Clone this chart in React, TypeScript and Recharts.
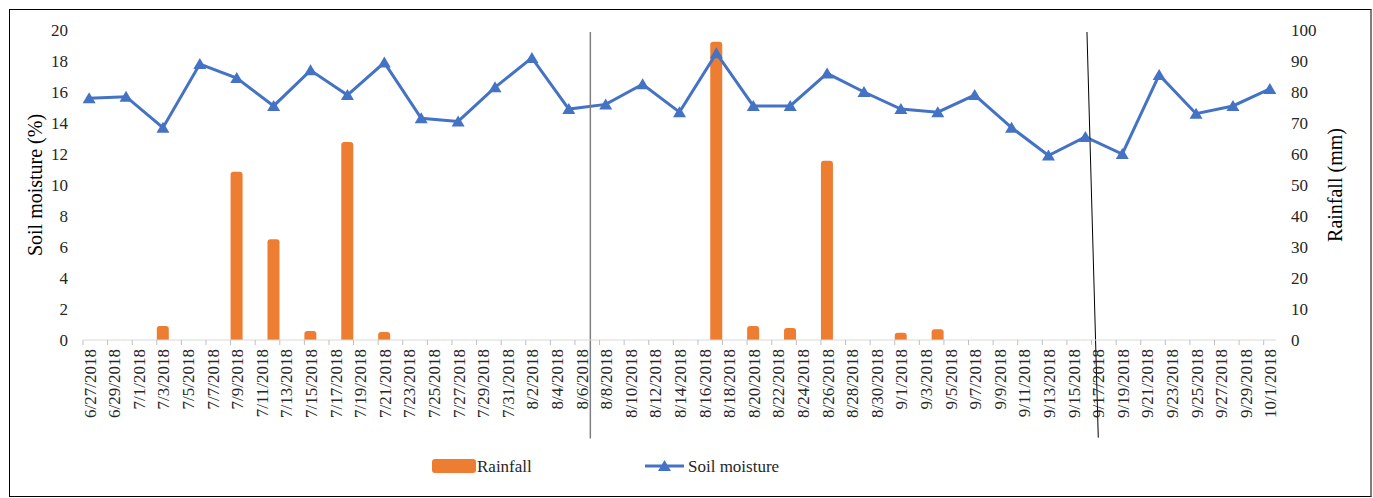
import React from 'react';
import {
	ComposedChart,
	Bar,
	Line,
	XAxis,
	YAxis,
	Legend,
	ReferenceLine,
	Label,
} from 'recharts';

const W = 1373;
const H = 498;
const FONT = '"Liberation Serif", "Times New Roman", serif';

// daily axis from 6/27/2018 to 10/1/2018
const START = { year: 2018, month: 5, day: 27 };
const DAY_COUNT = 97;

// soil moisture sampled every third day, starting 6/27/2018
const moistureStep = 3;
const moisture = [
	15.6, 15.7, 13.7, 17.8, 16.9, 15.1, 17.4, 15.8, 17.9, 14.3, 14.1, 16.3, 18.2,
	14.9, 15.2, 16.5, 14.7, 18.5, 15.1, 15.1, 17.2, 16.0, 14.9, 14.7, 15.8, 13.7,
	11.9, 13.1, 12.0, 17.1, 14.6, 15.1, 16.2,
];

const rainDates = [
	'7/3/2018', '7/9/2018', '7/12/2018', '7/15/2018', '7/18/2018', '7/21/2018',
	'8/17/2018', '8/20/2018', '8/23/2018', '8/26/2018', '9/1/2018', '9/4/2018',
];
const rainfall = [4.5, 54.3, 32.5, 2.9, 63.9, 2.6, 96.2, 4.5, 3.9, 57.8, 2.3, 3.5];

const leftTicks = [0, 2, 4, 6, 8, 10, 12, 14, 16, 18, 20];
const rightTicks = [0, 10, 20, 30, 40, 50, 60, 70, 80, 90, 100];

const fmtDate = (i: number) => {
	const d = new Date(START.year, START.month, START.day + i);
	return `${d.getMonth() + 1}/${d.getDate()}/${d.getFullYear()}`;
};

const data = Array.from({ length: DAY_COUNT }, (_, i) => {
	const label = fmtDate(i);
	const r = rainDates.indexOf(label);
	return {
		day: i,
		label,
		moisture: i % moistureStep === 0 ? moisture[i / moistureStep] : null,
		rain: r >= 0 ? rainfall[r] : null,
	};
});

const xTicks = data.filter((d) => d.day % 2 === 0).map((d) => d.day);

const margin = { top: 30, right: 37, bottom: 0, left: 23 };
const plotLeft = margin.left + 60;
const plotRight = W - margin.right - 60;
const halfDay = (plotRight - plotLeft) / DAY_COUNT / 2;

const DayTick = (props: any) => {
	const { x, y, payload } = props;
	return (
		<g>
			<line x1={x - halfDay} x2={x - halfDay} y1={y} y2={y + 5} stroke="#BFBFBF" />
			<text
				transform={`translate(${x + 6.5},${y + 9}) rotate(-90)`}
				textAnchor="end"
				fontSize={17}
				fontFamily={FONT}
				fill="#262626"
			>
				{fmtDate(payload.value)}
			</text>
		</g>
	);
};

const Triangle = (props: any) => {
	const { cx, cy, index } = props;
	if (cx == null || cy == null || props.payload?.moisture == null) return <g key={`t${index}`} />;
	return (
		<path
			key={`t${index}`}
			d={`M${cx},${cy - 6} L${cx + 6.5},${cy + 5} L${cx - 6.5},${cy + 5} Z`}
			fill="#4472C4"
		/>
	);
};

const LegendBox = () => (
	<svg width={W} height={50} style={{ display: 'block' }}>
		<rect x={432} y={11} width={44} height={14} rx={3} fill="#ED7D31" />
		<text x={477} y={18} dominantBaseline="central" fontSize={17} fontFamily={FONT} fill="#262626">
			Rainfall
		</text>
		<line x1={645} x2={684} y1={18} y2={18} stroke="#4472C4" strokeWidth={3} />
		<path d="M664.5,12 L671,23 L658,23 Z" fill="#4472C4" />
		<text x={688} y={18} dominantBaseline="central" fontSize={17} fontFamily={FONT} fill="#262626">
			Soil moisture
		</text>
	</svg>
);

const axisTitle = (text: string, x: number) => () => (
	<text
		x={x}
		y={185}
		transform={`rotate(-90 ${x} 185)`}
		textAnchor="middle"
		dominantBaseline="central"
		fontSize={20}
		fontFamily={FONT}
		fill="#000"
	>
		{text}
	</text>
);

export default function App() {
	return (
		<div style={{ position: 'fixed', left: 0, top: 0, width: W, height: H, background: '#fff' }}>
			<ComposedChart width={W} height={H} data={data} margin={margin}>
				<XAxis
					dataKey="day"
					type="number"
					domain={[-0.5, 96.5]}
					ticks={xTicks}
					interval={0}
					height={108}
					tickSize={0}
					tickMargin={0}
					tickLine={false}
					axisLine={{ stroke: '#D9D9D9' }}
					tick={<DayTick />}
				/>
				<YAxis
					yAxisId="left"
					domain={[0, 20]}
					ticks={leftTicks}
					width={60}
					axisLine={false}
					tickLine={false}
					tickSize={0}
					tickMargin={15}
					tick={{ fontSize: 17, fontFamily: FONT, fill: '#262626' }}
				>
					<Label content={axisTitle('Soil moisture (%)', 35)} />
				</YAxis>
				<YAxis
					yAxisId="right"
					orientation="right"
					domain={[0, 100]}
					ticks={rightTicks}
					width={60}
					axisLine={false}
					tickLine={false}
					tickSize={0}
					tickMargin={15}
					tick={{ fontSize: 17, fontFamily: FONT, fill: '#262626', textAnchor: 'start' }}
				>
					<Label content={axisTitle('Rainfall (mm)', 1335)} />
				</YAxis>
				<Legend verticalAlign="bottom" height={50} wrapperStyle={{ left: 0, width: W }} content={<LegendBox />} />
				<Bar
					yAxisId="right"
					dataKey="rain"
					name="Rainfall"
					barSize={12}
					fill="#ED7D31"
					radius={[3, 3, 0, 0]}
					isAnimationActive={false}
				/>
				<Line
					yAxisId="left"
					dataKey="moisture"
					name="Soil moisture"
					stroke="#4472C4"
					strokeWidth={3}
					connectNulls
					dot={Triangle}
					activeDot={false}
					isAnimationActive={false}
				/>
				<ReferenceLine
					yAxisId="left"
					segment={[{ x: 40.75, y: 19.87 }, { x: 40.75, y: -6.35 }]}
					ifOverflow="visible"
					stroke="#7F7F7F"
					strokeWidth={1.5}
				/>
				<ReferenceLine
					yAxisId="left"
					segment={[{ x: 81.13, y: 19.87 }, { x: 82.05, y: -6.3 }]}
					ifOverflow="visible"
					stroke="#000"
					strokeWidth={1}
				/>
			</ComposedChart>
			<div
				style={{
					position: 'absolute',
					left: 9,
					top: 9,
					width: 1360,
					height: 486,
					border: '1px solid #000',
					borderRight: '2px solid #7F7F7F',
					pointerEvents: 'none',
				}}
			/>
		</div>
	);
}
